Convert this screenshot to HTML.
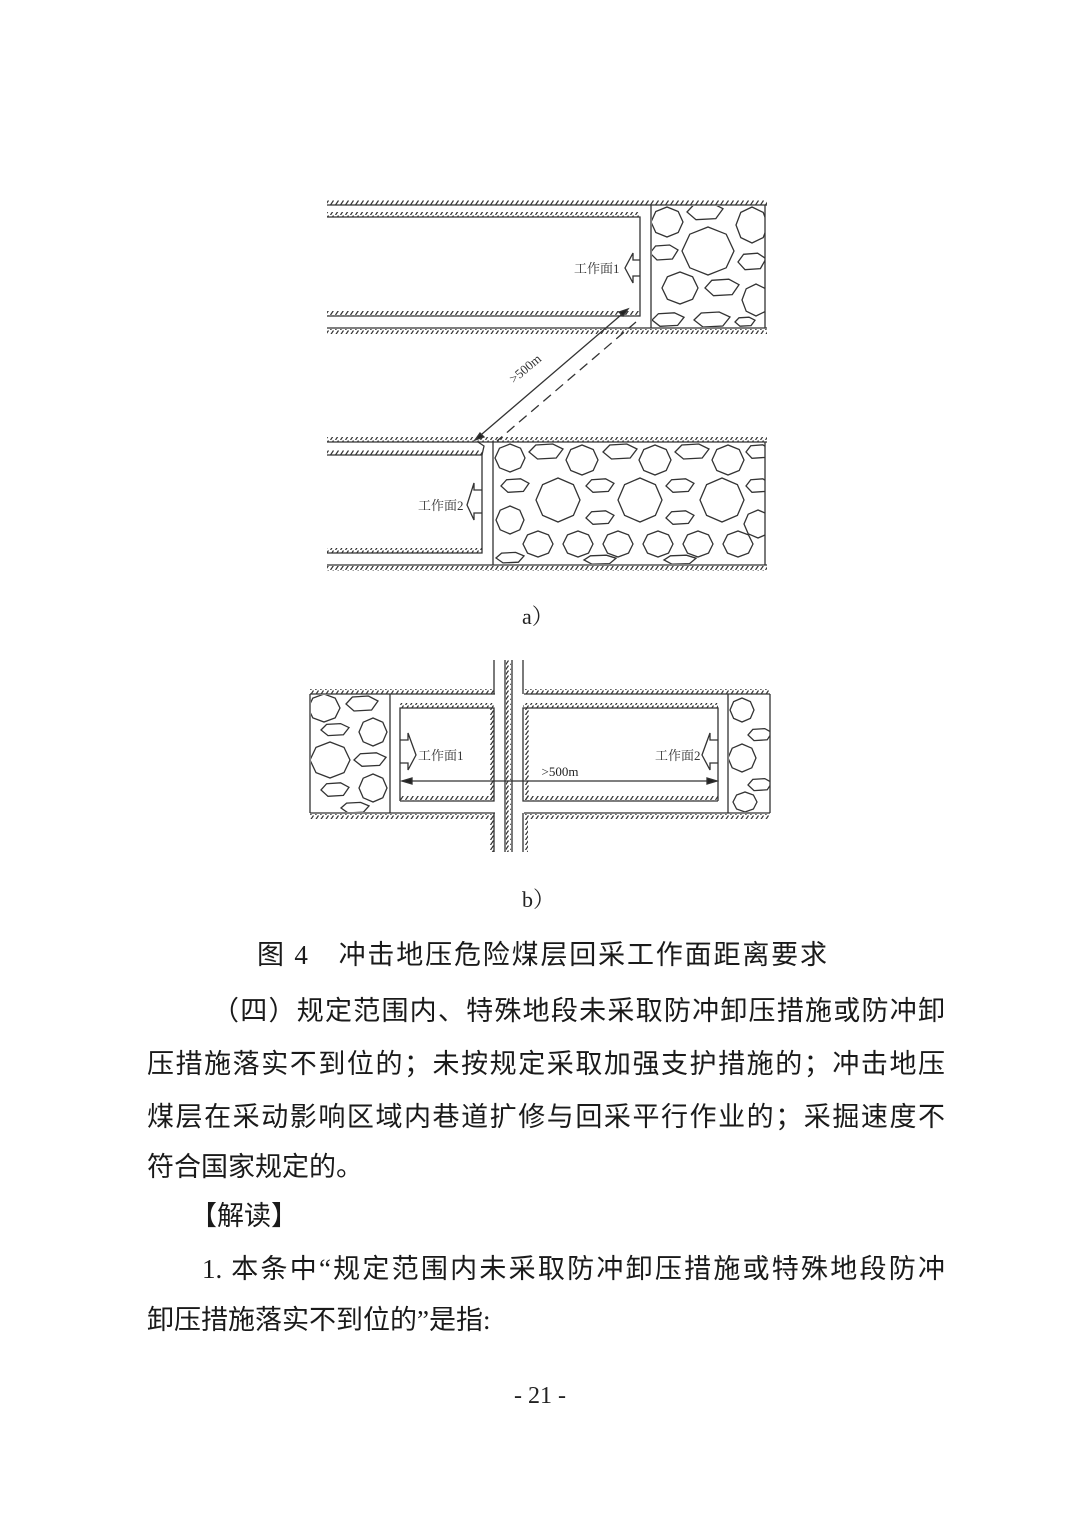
<!DOCTYPE html>
<html><head><meta charset="utf-8">
<style>
html,body{margin:0;padding:0;background:#fff;}
body{width:1080px;height:1527px;position:relative;overflow:hidden;font-family:"Liberation Serif","Noto Serif CJK SC",serif;color:#222;}
svg{position:absolute;left:0;top:0;}
.ln{position:absolute;font-size:27px;font-family:"Liberation Serif","Noto Sans CJK SC",sans-serif;color:#1a1a1a;white-space:nowrap;text-align:justify;text-align-last:justify;height:34px;line-height:34px;}
.c{position:absolute;font-size:22px;color:#222;}
</style></head><body>
<svg width="1080" height="1527" viewBox="0 0 1080 1527">
<defs>
<pattern id="h" width="5" height="5" patternUnits="userSpaceOnUse"><path d="M0.5,5 L3.5,0.5" stroke="#333" stroke-width="1.2"/></pattern>
<polygon id="o" points="1,0 0.7,0.7 0,1 -0.7,0.7 -1,0 -0.7,-0.7 0,-1 0.7,-0.7" fill="none" stroke="#333" stroke-width="1.3" vector-effect="non-scaling-stroke"/>
<polygon id="p" points="1,-0.3 0.6,0.6 -0.5,0.7 -1,0 -0.6,-0.7 0.4,-0.8" fill="none" stroke="#333" stroke-width="1.3" vector-effect="non-scaling-stroke"/>
<clipPath id="ca1"><rect x="652" y="206" width="113" height="121"/></clipPath>
<clipPath id="ca2"><rect x="494" y="443" width="271" height="121"/></clipPath>
<clipPath id="cb1"><rect x="311" y="695" width="79" height="117"/></clipPath>
<clipPath id="cb2"><rect x="729" y="695" width="41" height="117"/></clipPath>
</defs>
<g stroke="#333" stroke-width="1.3" fill="none">
<!-- diagram a top -->
<rect x="327" y="200" width="440" height="5" fill="url(#h)" stroke="none"/>
<line x1="327" y1="205" x2="767" y2="205"/>
<rect x="327" y="212" width="313" height="5" fill="url(#h)" stroke="none"/>
<polyline points="327,217 640,217 640,316 327,316"/>
<rect x="327" y="311" width="313" height="5" fill="url(#h)" stroke="none"/>
<line x1="327" y1="328" x2="767" y2="328"/>
<rect x="327" y="329" width="440" height="5" fill="url(#h)" stroke="none"/>
<line x1="651" y1="205" x2="651" y2="328"/>
<line x1="765" y1="205" x2="765" y2="328"/>
<g clip-path="url(#ca1)">
<use href="#o" transform="translate(667,222) scale(16,15)"/>
<use href="#p" transform="translate(705,212) scale(18,11)"/>
<use href="#o" transform="translate(752,225) scale(16,18)"/>
<use href="#p" transform="translate(664,253) scale(14,10)"/>
<use href="#o" transform="translate(708,251) scale(26,24)"/>
<use href="#p" transform="translate(752,262) scale(14,11)"/>
<use href="#o" transform="translate(680,288) scale(18,16)"/>
<use href="#p" transform="translate(722,288) scale(17,11)"/>
<use href="#o" transform="translate(756,300) scale(14,16)"/>
<use href="#p" transform="translate(668,320) scale(16,9)"/>
<use href="#p" transform="translate(712,320) scale(18,10)"/>
<use href="#p" transform="translate(745,322) scale(10,6)"/>
</g>
<path d="M640,260 L633,260 L633,253 L625,268 L633,283 L633,276 L640,276"/>
<!-- diagonal -->
<line x1="628" y1="309" x2="475" y2="440"/>
<path d="M628,309 L619,312 L623,316 Z" fill="#222"/>
<path d="M475,440 L484,437 L480,433 Z" fill="#222"/>
<line x1="636" y1="322" x2="497" y2="441" stroke-dasharray="10,6"/>
<!-- diagram a bottom -->
<rect x="327" y="437" width="440" height="5" fill="url(#h)" stroke="none"/>
<line x1="327" y1="442" x2="767" y2="442"/>
<rect x="327" y="450" width="155" height="5" fill="url(#h)" stroke="none"/>
<polyline points="327,455 482,455 482,553 327,553"/>
<rect x="327" y="548" width="155" height="5" fill="url(#h)" stroke="none"/>
<line x1="327" y1="565" x2="767" y2="565"/>
<rect x="327" y="566" width="440" height="5" fill="url(#h)" stroke="none"/>
<polyline points="478,442 484,446 482,455"/>
<line x1="493" y1="442" x2="493" y2="565"/>
<line x1="765" y1="442" x2="765" y2="565"/>
<g clip-path="url(#ca2)">
<use href="#o" transform="translate(510,458) scale(15,14)"/>
<use href="#p" transform="translate(546,452) scale(17,10)"/>
<use href="#o" transform="translate(582,460) scale(16,15)"/>
<use href="#p" transform="translate(620,452) scale(17,10)"/>
<use href="#o" transform="translate(655,460) scale(16,15)"/>
<use href="#p" transform="translate(692,452) scale(17,10)"/>
<use href="#o" transform="translate(728,460) scale(16,15)"/>
<use href="#p" transform="translate(758,452) scale(12,9)"/>
<use href="#p" transform="translate(515,486) scale(14,9)"/>
<use href="#o" transform="translate(558,500) scale(22,22)"/>
<use href="#p" transform="translate(600,486) scale(14,9)"/>
<use href="#o" transform="translate(640,500) scale(22,22)"/>
<use href="#p" transform="translate(680,486) scale(14,9)"/>
<use href="#o" transform="translate(722,500) scale(22,22)"/>
<use href="#p" transform="translate(758,486) scale(12,9)"/>
<use href="#o" transform="translate(510,520) scale(14,14)"/>
<use href="#p" transform="translate(600,518) scale(14,9)"/>
<use href="#p" transform="translate(680,518) scale(14,9)"/>
<use href="#o" transform="translate(758,524) scale(14,14)"/>
<use href="#o" transform="translate(538,544) scale(15,13)"/>
<use href="#o" transform="translate(578,544) scale(15,13)"/>
<use href="#o" transform="translate(618,544) scale(15,13)"/>
<use href="#o" transform="translate(658,544) scale(15,13)"/>
<use href="#o" transform="translate(698,544) scale(15,13)"/>
<use href="#o" transform="translate(738,544) scale(15,13)"/>
<use href="#p" transform="translate(510,558) scale(14,7)"/>
<use href="#p" transform="translate(600,560) scale(16,6)"/>
<use href="#p" transform="translate(680,560) scale(16,6)"/>
</g>
<path d="M482,490 L474,490 L474,483 L467,505 L474,520 L474,513 L482,513"/>
<!-- diagram b -->
<rect x="310" y="689" width="185" height="5" fill="url(#h)" stroke="none"/>
<rect x="524" y="689" width="246" height="5" fill="url(#h)" stroke="none"/>
<line x1="310" y1="694" x2="495" y2="694"/>
<line x1="524" y1="694" x2="770" y2="694"/>
<line x1="310" y1="813" x2="495" y2="813"/>
<line x1="524" y1="813" x2="770" y2="813"/>
<rect x="310" y="814" width="185" height="5" fill="url(#h)" stroke="none"/>
<rect x="524" y="814" width="246" height="5" fill="url(#h)" stroke="none"/>
<line x1="310" y1="694" x2="310" y2="813"/>
<line x1="770" y1="694" x2="770" y2="813"/>
<line x1="390" y1="694" x2="390" y2="813"/>
<line x1="728" y1="694" x2="728" y2="813"/>
<polyline points="400,801 400,708 494,708 494,801 400,801"/>
<polyline points="718,801 718,708 523,708 523,801 718,801"/>
<rect x="400" y="703" width="94" height="5" fill="url(#h)" stroke="none"/>
<rect x="523" y="703" width="195" height="5" fill="url(#h)" stroke="none"/>
<rect x="400" y="796" width="94" height="5" fill="url(#h)" stroke="none"/>
<rect x="523" y="796" width="195" height="5" fill="url(#h)" stroke="none"/>
<rect x="489" y="708" width="5" height="93" fill="url(#h)" stroke="none"/>
<rect x="524" y="708" width="5" height="93" fill="url(#h)" stroke="none"/>
<line x1="494" y1="660" x2="494" y2="694"/>
<line x1="523" y1="660" x2="523" y2="694"/>
<line x1="505" y1="660" x2="505" y2="852"/>
<line x1="512" y1="660" x2="512" y2="852"/>
<rect x="506" y="660" width="5" height="192" fill="url(#h)" stroke="none"/>
<line x1="494" y1="813" x2="494" y2="852"/>
<line x1="523" y1="813" x2="523" y2="852"/>
<rect x="490" y="818" width="4" height="34" fill="url(#h)" stroke="none"/>
<rect x="524" y="818" width="4" height="34" fill="url(#h)" stroke="none"/>
<g clip-path="url(#cb1)">
<use href="#o" transform="translate(324,708) scale(16,14)"/>
<use href="#p" transform="translate(362,704) scale(16,10)"/>
<use href="#p" transform="translate(335,730) scale(14,8)"/>
<use href="#o" transform="translate(373,732) scale(14,14)"/>
<use href="#o" transform="translate(330,760) scale(20,18)"/>
<use href="#p" transform="translate(370,760) scale(16,9)"/>
<use href="#o" transform="translate(373,788) scale(14,14)"/>
<use href="#p" transform="translate(335,790) scale(14,9)"/>
<use href="#p" transform="translate(355,808) scale(14,7)"/>
</g>
<g clip-path="url(#cb2)">
<use href="#o" transform="translate(742,710) scale(12,12)"/>
<use href="#p" transform="translate(760,735) scale(12,8)"/>
<use href="#o" transform="translate(742,758) scale(14,14)"/>
<use href="#p" transform="translate(760,785) scale(12,8)"/>
<use href="#o" transform="translate(745,802) scale(12,10)"/>
</g>
<path d="M400,740 L408,740 L408,733 L416,755 L408,770 L408,763 L400,763"/>
<path d="M718,740 L710,740 L710,733 L702,755 L710,770 L710,763 L718,763"/>
<line x1="402" y1="781" x2="717" y2="781"/>
<path d="M402,781 L412,778 L412,784 Z" fill="#222"/>
<path d="M717,781 L707,778 L707,784 Z" fill="#222"/>
</g>
<g font-family="Liberation Serif,Noto Serif CJK SC,serif" font-size="13" fill="#333">
<text x="574" y="273">工作面1</text>
<text x="418" y="510">工作面2</text>
<text x="418" y="760">工作面1</text>
<text x="655" y="760">工作面2</text>
<text x="560" y="776" text-anchor="middle" fill="#222">&gt;500m</text>
<text transform="translate(528,372) rotate(-40)" text-anchor="middle">&gt;500m</text>
</g>
</svg>
<div class="c" style="left:522px;top:600px;">a）</div>
<div class="c" style="left:522px;top:883px;">b）</div>
<div class="ln" style="left:257px;top:938px;width:570px;">图 4　冲击地压危险煤层回采工作面距离要求</div>
<div class="ln" style="left:212px;top:994px;width:733px;">（四）规定范围内、特殊地段未采取防冲卸压措施或防冲卸</div>
<div class="ln" style="left:147px;top:1047px;width:798px;">压措施落实不到位的；未按规定采取加强支护措施的；冲击地压</div>
<div class="ln" style="left:147px;top:1100px;width:798px;">煤层在采动影响区域内巷道扩修与回采平行作业的；采掘速度不</div>
<div class="ln" style="left:147px;top:1150px;">符合国家规定的。</div>
<div class="ln" style="left:190px;top:1199px;">【解读】</div>
<div class="ln" style="left:202px;top:1252px;width:743px;">1. 本条中“规定范围内未采取防冲卸压措施或特殊地段防冲</div>
<div class="ln" style="left:147px;top:1303px;">卸压措施落实不到位的”是指:</div>
<div class="c" style="left:540px;top:1383px;transform:translateX(-50%);font-size:24px;white-space:nowrap;">- 21 -</div>
</body></html>
